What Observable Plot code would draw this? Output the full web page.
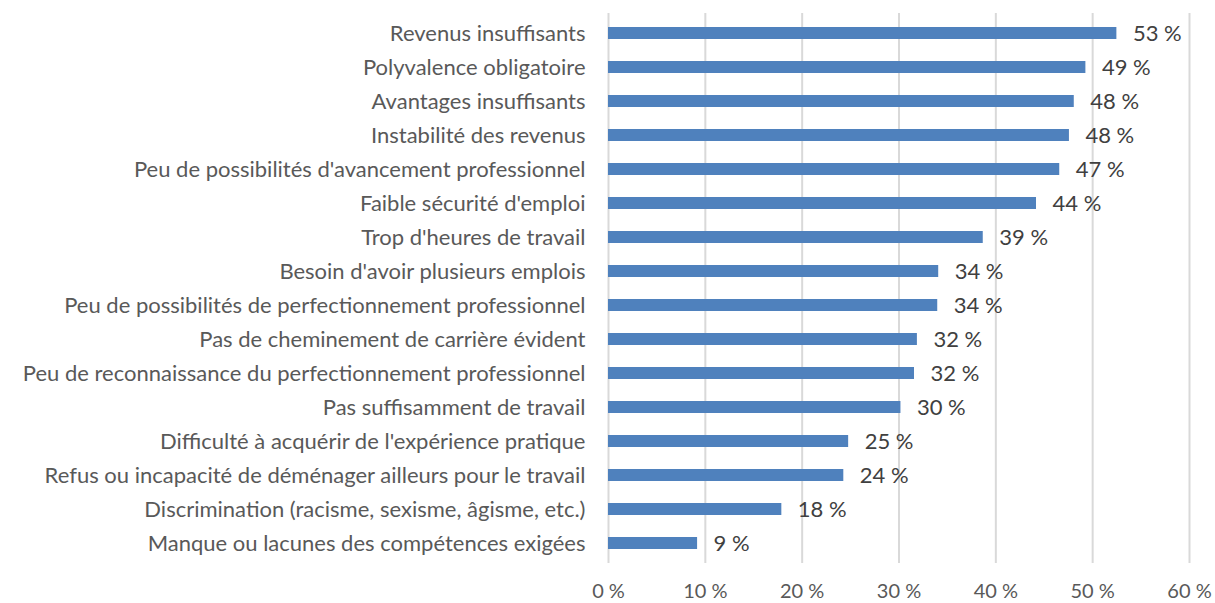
<!DOCTYPE html>
<html>
<head>
<meta charset="utf-8">
<script src="https://cdn.jsdelivr.net/npm/d3@7"></script>
<script src="https://cdn.jsdelivr.net/npm/@observablehq/plot@0.6"></script>
<style>
  html, body { margin: 0; padding: 0; background: #fff; }
  #chart { width: 1215px; height: 603px; }
</style>
</head>
<body>
<div id="chart"></div>
<script>
const categories = [
  "Revenus insuffisants",
  "Polyvalence obligatoire",
  "Avantages insuffisants",
  "Instabilité des revenus",
  "Peu de possibilités d'avancement professionnel",
  "Faible sécurité d'emploi",
  "Trop d'heures de travail",
  "Besoin d'avoir plusieurs emplois",
  "Peu de possibilités de perfectionnement professionnel",
  "Pas de cheminement de carrière évident",
  "Peu de reconnaissance du perfectionnement professionnel",
  "Pas suffisamment de travail",
  "Difficulté à acquérir de l'expérience pratique",
  "Refus ou incapacité de déménager ailleurs pour le travail",
  "Discrimination (racisme, sexisme, âgisme, etc.)",
  "Manque ou lacunes des compétences exigées"
];
const values = [52.5, 49.3, 48.1, 47.6, 46.6, 44.2, 38.7, 34.1, 34.0, 31.9, 31.6, 30.2, 24.8, 24.3, 17.9, 9.2];
const valueLabels = ["53 %", "49 %", "48 %", "48 %", "47 %", "44 %", "39 %", "34 %", "34 %", "32 %", "32 %", "30 %", "25 %", "24 %", "18 %", "9 %"];
const xTicks = [0, 10, 20, 30, 40, 50, 60];

const data = categories.map((c, i) => ({category: c, value: values[i], label: valueLabels[i]}));

const chart = Plot.plot({
  width: 1215,
  height: 603,
  marginLeft: 608,
  marginRight: 26,
  marginTop: 13,
  marginBottom: 40,
  style: {fontFamily: "Lato, 'Open Sans', sans-serif", fontSize: "22px", color: "#595959", background: "#fff"},
  x: {domain: [0, 60], ticks: xTicks, tickFormat: d => d + " %", label: null, tickSize: 0, tickPadding: 20},
  y: {domain: categories, label: null, paddingInner: 0.65, paddingOuter: 0.325, tickSize: 0, tickPadding: 23},
  marks: [
    Plot.gridX(xTicks, {stroke: "#d9d9d9", strokeOpacity: 1, strokeWidth: 2}),
    Plot.barX(data, {x: "value", y: "category", fill: "#4f81bd"}),
    Plot.text(data, {x: "value", y: "category", text: "label", textAnchor: "start", dx: 16, fill: "#404040", fontSize: 22}),
    Plot.axisX({ticks: xTicks, tickFormat: d => d + " %", tickSize: 0, tickPadding: 20, label: null, fill: "#595959", fontSize: 20}),
    Plot.axisY({tickSize: 0, tickPadding: 23, label: null, fill: "#595959", fontSize: 22})
  ]
});
document.getElementById("chart").appendChild(chart);
</script>
</body>
</html>
